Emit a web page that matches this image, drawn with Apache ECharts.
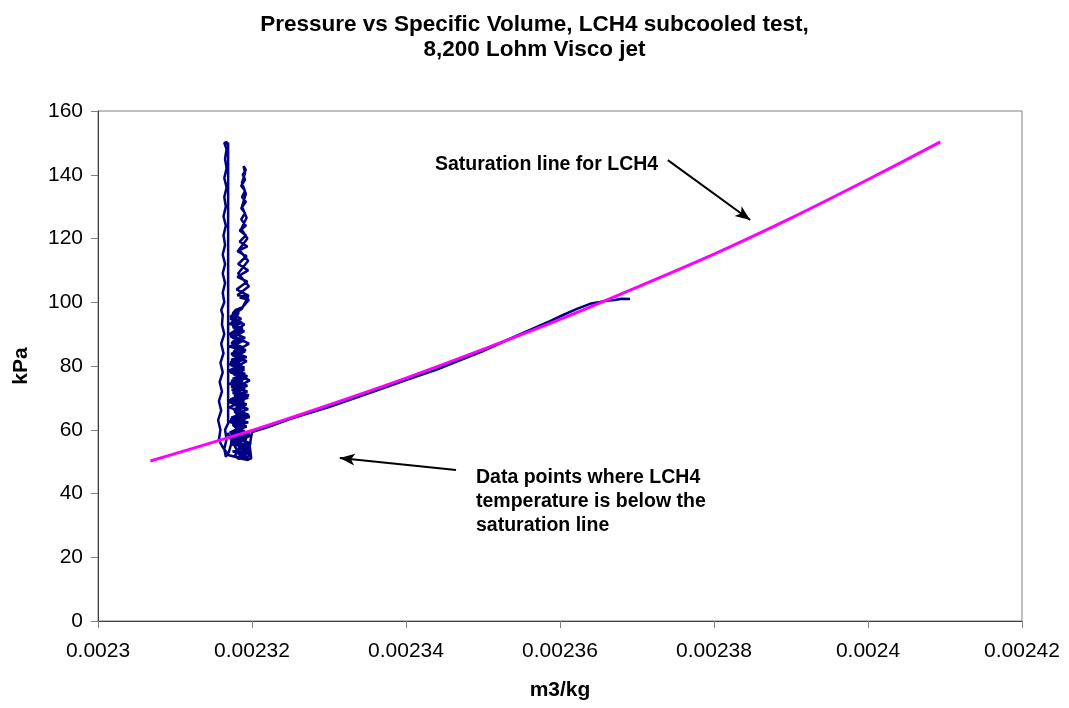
<!DOCTYPE html>
<html>
<head>
<meta charset="utf-8">
<script src="https://cdn.jsdelivr.net/npm/echarts@6/dist/echarts.min.js"></script>
<style>
html,body{margin:0;padding:0;background:#fff;}
#chart{width:1069px;height:708px;}
</style>
</head>
<body>
<div id="chart"></div>
<script>
// ---------- DATA ----------
var titleText = 'Pressure vs Specific Volume, LCH4 subcooled test,\n8,200 Lohm Visco jet';
var xAxisName = 'm3/kg';
var yAxisName = 'kPa';
var xTicks = [0.0023, 0.00232, 0.00234, 0.00236, 0.00238, 0.0024, 0.00242];
var yTicks = [0, 20, 40, 60, 80, 100, 120, 140, 160];

// Saturation line for LCH4 (specific volume m3/kg, pressure kPa)
var satVolume   = [0.0023068, 0.00232, 0.00233, 0.00234, 0.00235, 0.00236, 0.00237, 0.00238, 0.00239, 0.0024, 0.0024094];
var satPressure = [50.2, 59.8, 67.8, 76.2, 85.2, 94.6, 104.7, 115.1, 126.4, 138.5, 150.3];

// Measured data points [specific volume, pressure]
var alongSaturation = [
  [0.0023691,101.0],[0.0023680,101.1],[0.0023671,100.7],[0.0023660,100.5],[0.0023652,100.1],
  [0.0023639,99.5],[0.0023622,97.9],[0.0023604,96.0],[0.0023587,94.1],[0.0023561,91.3],
  [0.0023530,88.0],[0.00235,84.7],[0.002347,81.8],[0.002344,78.9],[0.00234,75.6],
  [0.002337,73.0],[0.002333,69.6],[0.00233,67.1],[0.002327,64.9],[0.002325,63.4],
  [0.002322,60.8],[0.00232,59.3]
];
var clusterBottom = [
  [0.0023197,55.0],[0.0023199,51.0],[0.0023194,50.6],[0.0023187,51.5],[0.0023183,50.8],
  [0.0023178,52.0],[0.0023186,54.5],[0.0023195,53.0],[0.0023192,56.0],[0.0023181,57.5],
  [0.0023176,55.0],[0.0023173,58.5]
];
var clusterPass1 = [
  [0.0023188,60.5],[0.0023176,62.0],[0.0023192,63.5],[0.0023179,65.0],[0.0023195,66.5],
  [0.0023174,68.0],[0.0023190,69.0],[0.0023177,70.5],[0.0023194,72.0],[0.0023173,73.5],
  [0.0023188,75.0],[0.0023175,76.0],[0.0023191,77.5],[0.0023178,79.0],[0.0023186,80.5],
  [0.0023173,82.0],[0.0023189,83.0],[0.0023176,84.5],[0.0023184,86.0],[0.0023174,87.5],
  [0.0023187,89.0],[0.0023177,90.5],[0.0023182,92.0],[0.0023173,93.5],[0.0023180,95.0],
  [0.0023175,96.5],[0.0023179,97.6]
];
var rightColumn = [
  [0.0023188,98.5],[0.0023196,100.8],[0.0023184,101.5],[0.0023196,102.0],
  [0.0023180,104.0],[0.0023194,106.5],[0.0023181,108.0],[0.0023195,110.0],[0.0023182,112.0],
  [0.0023193,114.5],[0.0023181,116.0],[0.0023194,117.5],[0.0023184,119.0],[0.0023192,121.0],
  [0.0023184,122.5],[0.0023192,124.0],[0.0023186,126.0],[0.0023191,128.0],[0.0023186,129.5],
  [0.0023192,131.5],[0.0023187,133.0],[0.0023191,135.0],[0.0023186,136.5],[0.0023191,138.5],
  [0.0023188,140.0],[0.0023192,141.5],[0.0023189,142.7],
  [0.0023191,140.5],[0.0023187,137.5],[0.0023192,134.0],[0.0023187,130.0],[0.0023193,126.5],
  [0.0023186,123.0],[0.0023194,120.0],[0.0023183,116.5],[0.0023195,113.0],[0.0023182,109.0],
  [0.0023196,105.0],[0.0023181,102.2],[0.0023195,101.8],[0.0023187,98.0]
];
var clusterPass2 = [
  [0.0023172,95.5],[0.0023190,93.0],[0.0023171,90.0],[0.0023196,87.0],[0.0023175,84.0],
  [0.0023193,81.5],[0.0023170,78.5],[0.0023197,75.5],[0.0023174,72.5],[0.0023192,70.0],
  [0.0023171,67.0],[0.0023196,64.5],[0.0023175,61.5],[0.0023194,58.5],[0.0023172,56.0],
  [0.0023198,53.5],[0.0023180,51.2],[0.0023195,50.5]
];
var leftColumn = [
  [0.0023170,52.0],[0.0023162,54.5],[0.0023157,56.8],[0.0023159,60.0],[0.0023156,63.0],
  [0.0023160,66.0],[0.0023157,69.0],[0.0023161,72.0],[0.0023158,75.0],[0.0023162,78.0],
  [0.0023159,81.0],[0.0023163,84.0],[0.0023160,87.0],[0.0023164,90.0],[0.0023161,93.0],
  [0.0023162,96.0],[0.0023160,97.5],[0.0023164,100.0],[0.0023162,103.0],[0.0023165,106.0],
  [0.0023162,109.0],[0.0023165,112.0],[0.0023162,115.0],[0.0023165,118.0],[0.0023163,121.0],
  [0.0023166,124.0],[0.0023163,127.0],[0.0023166,130.0],[0.0023164,133.0],[0.0023167,136.0],
  [0.0023164,139.0],[0.0023167,142.0],[0.0023165,145.0],[0.0023167,148.0],[0.0023164,150.0],
  [0.0023168,150.3],[0.0023165,149.5],[0.0023169,150.0],[0.0023169,149.0],
  [0.0023169,62.0],[0.0023165,60.0],[0.0023167,57.0],[0.0023164,54.0],[0.0023166,51.5],
  [0.0023170,53.0],[0.0023174,56.5],[0.0023168,59.0]
];
var clusterPass3 = [
  [0.0023183,52.5],[0.0023196,54.0],[0.0023178,55.5],[0.0023193,57.0],[0.0023172,58.2],
  [0.0023190,59.6],[0.0023177,61.0],[0.0023195,62.3],[0.0023173,63.8],[0.0023189,65.2],
  [0.0023178,66.6],[0.0023193,68.0],[0.0023172,69.5],[0.0023187,71.0],[0.0023176,72.3],
  [0.0023194,73.8],[0.0023174,75.2],[0.0023186,76.7],[0.0023172,78.0],[0.0023190,79.5],
  [0.0023177,81.0],[0.0023188,82.4],[0.0023173,83.8],[0.0023185,85.2],[0.0023176,86.6],
  [0.0023189,88.0],[0.0023172,89.5],[0.0023184,91.0],[0.0023175,92.5],[0.0023183,94.0],
  [0.0023174,95.5],[0.0023181,96.8]
];
var clusterPass4 = [
  [0.0023177,96.0],[0.0023186,94.8],[0.0023171,93.2],[0.0023188,91.8],[0.0023176,90.3],
  [0.0023191,88.8],[0.0023173,87.2],[0.0023189,85.8],[0.0023178,84.2],[0.0023193,82.8],
  [0.0023172,81.2],[0.0023187,79.8],[0.0023175,78.3],[0.0023194,76.8],[0.0023173,75.3],
  [0.0023190,73.7],[0.0023179,72.2],[0.0023196,70.8],[0.0023171,69.3],[0.0023192,67.8],
  [0.0023176,66.3],[0.0023195,64.8],[0.0023172,63.3],[0.0023190,61.8],[0.0023180,60.3],
  [0.0023197,58.8],[0.0023175,57.3],[0.0023199,55.8],[0.0023182,54.3],[0.0023198,52.8],
  [0.0023185,51.3],[0.0023196,50.6]
];
var clusterPass5 = [
  [0.0023190,51.8],[0.0023175,53.2],[0.0023197,54.6],[0.0023179,56.2],[0.0023194,57.6],
  [0.0023171,59.1],[0.0023186,60.8],[0.0023174,62.6],[0.0023196,64.0],[0.0023177,65.6],
  [0.0023191,67.2],[0.0023170,68.7],[0.0023193,70.3],[0.0023178,71.6],[0.0023189,73.1],
  [0.0023171,74.4],[0.0023192,76.1],[0.0023176,77.4],[0.0023190,78.8],[0.0023172,80.3],
  [0.0023186,81.8],[0.0023179,83.1],[0.0023191,84.6],[0.0023171,86.1],[0.0023186,87.6],
  [0.0023174,89.0],[0.0023188,90.6],[0.0023176,92.0],[0.0023185,93.4],[0.0023172,94.8],
  [0.0023182,96.2],[0.0023177,97.4]
];
var clusterPass6 = [
  [0.0023183,96.6],[0.0023173,95.0],[0.0023187,93.6],[0.0023175,92.2],[0.0023190,90.9],
  [0.0023172,89.3],[0.0023186,87.9],[0.0023177,86.4],[0.0023192,85.0],[0.0023174,83.4],
  [0.0023190,82.0],[0.0023171,80.6],[0.0023188,79.1],[0.0023177,77.6],[0.0023193,76.2],
  [0.0023172,74.6],[0.0023191,73.0],[0.0023175,71.5],[0.0023195,70.0],[0.0023173,68.5],
  [0.0023189,67.0],[0.0023178,65.5],[0.0023197,64.0],[0.0023170,62.5],[0.0023193,61.0],
  [0.0023176,59.5],[0.0023198,58.0],[0.0023173,56.5],[0.0023196,55.0],[0.0023179,53.5],
  [0.0023199,52.0],[0.0023188,50.7]
];

var annotationSat = 'Saturation line for LCH4';
var annotationData = 'Data points where LCH4\ntemperature is below the\nsaturation line';
// arrows in data coordinates [volume, pressure]
var arrowSatFrom = [0.0023740, 144.6], arrowSatTo = [0.0023847, 125.8];
var arrowDataFrom = [0.0023465, 47.4], arrowDataTo = [0.0023314, 51.1];

// ---------- CHART ----------
var measured = [].concat(alongSaturation, clusterBottom, clusterPass1, rightColumn,
  clusterPass2, leftColumn, clusterPass3, clusterPass4, clusterPass5, clusterPass6);
var saturation = satVolume.map(function (v, i) { return [v, satPressure[i]]; });

var FONT = '"Liberation Sans", Arial, sans-serif';
var chart = echarts.init(document.getElementById('chart'), null, {renderer: 'canvas'});
chart.setOption({
  animation: false,
  backgroundColor: '#ffffff',
  title: {
    text: titleText, left: 'center', top: 7,
    textStyle: {fontFamily: FONT, fontSize: 22.5, fontWeight: 'bold', color: '#000', lineHeight: 25}
  },
  grid: {left: 98, right: 47, top: 111, bottom: 87, show: true, borderColor: '#808080', borderWidth: 1, backgroundColor: 'transparent'},
  xAxis: {
    type: 'value', min: xTicks[0], max: xTicks[xTicks.length - 1], interval: 0.00002,
    name: xAxisName, nameLocation: 'middle', nameGap: 59,
    nameTextStyle: {fontFamily: FONT, fontSize: 21, fontWeight: 'bold', color: '#000'},
    axisLine: {show: true, onZero: false, lineStyle: {color: '#404040', width: 1}},
    axisTick: {show: true, inside: false, length: 7, lineStyle: {color: '#808080'}},
    splitLine: {show: false},
    axisLabel: {fontFamily: FONT, fontSize: 21, color: '#000', margin: 20,
      formatter: function (v) { return String(parseFloat(v.toFixed(6))); }}
  },
  yAxis: {
    type: 'value', min: yTicks[0], max: yTicks[yTicks.length - 1], interval: 20,
    name: yAxisName, nameLocation: 'middle', nameGap: 66,
    nameTextStyle: {fontFamily: FONT, fontSize: 21, fontWeight: 'bold', color: '#000'},
    axisLine: {show: true, lineStyle: {color: '#404040', width: 1}},
    axisTick: {show: true, inside: false, length: 7, lineStyle: {color: '#808080'}},
    splitLine: {show: false},
    axisLabel: {fontFamily: FONT, fontSize: 21, color: '#000', margin: 15}
  },
  series: [
    {
      name: 'Data', type: 'line', data: measured, showSymbol: false, symbol: 'none',
      lineStyle: {color: '#000080', width: 2.5}, z: 2, silent: true
    },
    {
      name: 'Saturation', type: 'line', data: saturation, showSymbol: false, symbol: 'none',
      smooth: 0.3, lineStyle: {color: '#FF00FF', width: 3}, z: 3, silent: true,
      markLine: {
        silent: true, symbol: ['none', 'arrow'], symbolSize: [9, 15],
        lineStyle: {color: '#000', width: 2, type: 'solid'},
        label: {show: false},
        data: [
          [{coord: arrowSatFrom}, {coord: arrowSatTo}],
          [{coord: arrowDataFrom}, {coord: arrowDataTo}]
        ]
      }
    }
  ],
  graphic: [
    {type: 'text', left: 435, top: 155, style: {text: annotationSat, font: 'bold 19.5px ' + FONT, fill: '#000'}},
    {type: 'text', left: 476, top: 466, style: {text: annotationData, font: 'bold 19.5px ' + FONT, fill: '#000', lineHeight: 24}}
  ]
});
</script>
</body>
</html>
